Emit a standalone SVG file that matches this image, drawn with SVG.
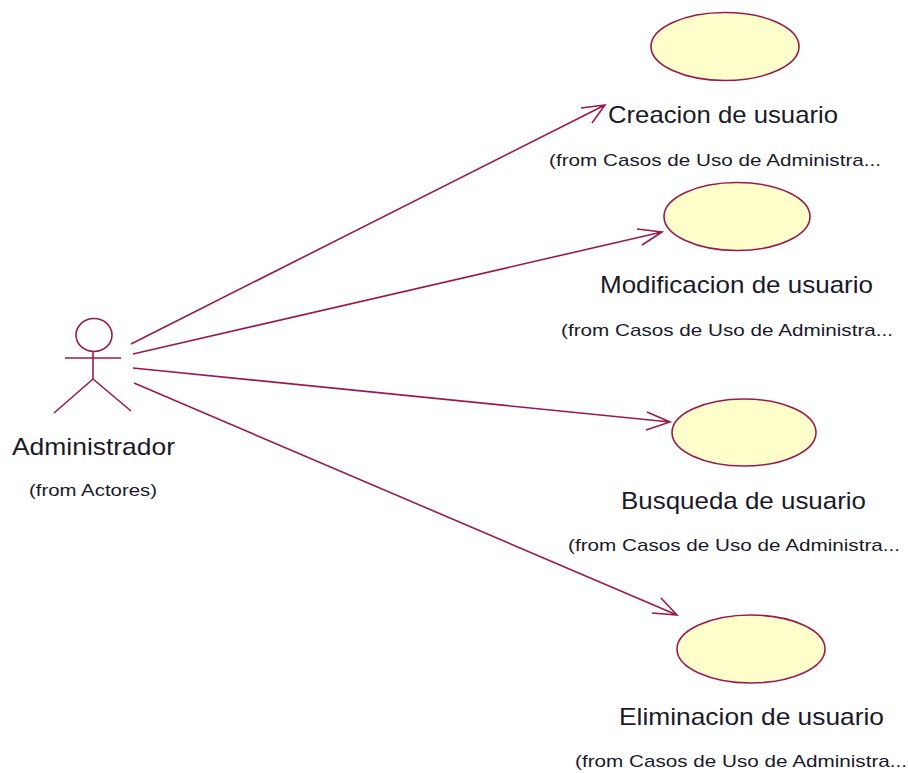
<svg xmlns="http://www.w3.org/2000/svg" width="908" height="773" viewBox="0 0 908 773">
<style>
.s{fill:none;stroke:#9c1a4b;stroke-width:1.6}
.u{fill:#ffffcb;stroke:#9c1a4b;stroke-width:1.6}
text{font-family:"Liberation Sans",Arial,sans-serif;fill:#1a1a2a}
.n{font-size:24px}
.f{font-size:17px}
</style>
<rect width="908" height="773" fill="#fff"/>
<g id="connectors" class="s">
<path d="M131 344L605 105M581 108L605 105L592 123"/>
<path d="M133 354L662 232M637 229L662 232L642 245"/>
<path d="M133 368L670 422M647 412L670 422L646 430"/>
<path d="M134 383L677 615M661 598L677 615L652 613"/>
</g>
<g id="actor-administrador">
<ellipse class="s" cx="94" cy="335" rx="18" ry="16.500"/>
<path class="s" d="M93 351V379M65 358H121M93 379L54 413M93 379L131 411"/>
<text class="n" x="12" y="455" textLength="163" lengthAdjust="spacingAndGlyphs">Administrador</text>
<text class="f" x="29" y="496" textLength="128" lengthAdjust="spacingAndGlyphs">(from Actores)</text>
</g>
<g id="usecase-creacion">
<ellipse class="u" cx="725" cy="46.500" rx="74" ry="34"/>
<text class="n" x="608" y="123" textLength="230" lengthAdjust="spacingAndGlyphs">Creacion de usuario</text>
<text class="f" x="549" y="166" textLength="332" lengthAdjust="spacingAndGlyphs">(from Casos de Uso de Administra...</text>
</g>
<g id="usecase-modificacion">
<ellipse class="u" cx="737" cy="216.500" rx="73" ry="34"/>
<text class="n" x="600" y="293" textLength="273" lengthAdjust="spacingAndGlyphs">Modificacion de usuario</text>
<text class="f" x="561" y="336" textLength="332" lengthAdjust="spacingAndGlyphs">(from Casos de Uso de Administra...</text>
</g>
<g id="usecase-busqueda">
<ellipse class="u" cx="744" cy="432.500" rx="72" ry="33.500"/>
<text class="n" x="621" y="509" textLength="245" lengthAdjust="spacingAndGlyphs">Busqueda de usuario</text>
<text class="f" x="568" y="551" textLength="332" lengthAdjust="spacingAndGlyphs">(from Casos de Uso de Administra...</text>
</g>
<g id="usecase-eliminacion">
<ellipse class="u" cx="751" cy="649" rx="74" ry="34"/>
<text class="n" x="619" y="725" textLength="265" lengthAdjust="spacingAndGlyphs">Eliminacion de usuario</text>
<text class="f" x="575" y="767" textLength="332" lengthAdjust="spacingAndGlyphs">(from Casos de Uso de Administra...</text>
</g>
</svg>
